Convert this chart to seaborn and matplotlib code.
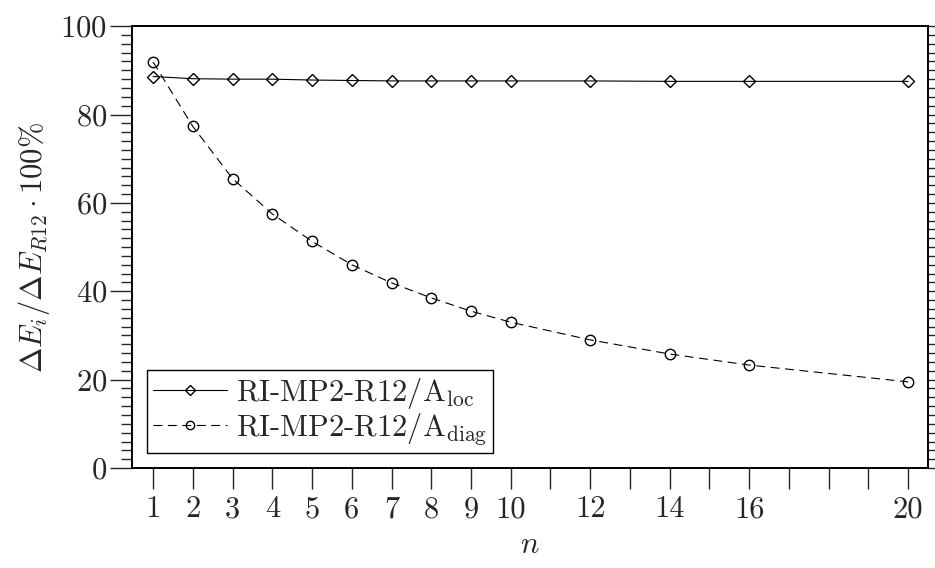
import matplotlib
matplotlib.use("Agg")
import matplotlib.pyplot as plt
import seaborn as sns
import pandas as pd
from matplotlib.ticker import MultipleLocator, FixedLocator

n_vals = [1, 2, 3, 4, 5, 6, 7, 8, 9, 10, 12, 14, 16, 20]
loc_vals = [88.6, 88.1, 88.0, 88.0, 87.8, 87.7, 87.6, 87.6, 87.6, 87.6, 87.6, 87.5, 87.5, 87.5]
diag_vals = [91.9, 77.3, 65.5, 57.5, 51.3, 46.0, 41.9, 38.5, 35.5, 33.0, 29.0, 25.8, 23.3, 19.5]
label_loc = "RI-MP2-R12/A$_{\\mathrm{loc}}$"
label_diag = "RI-MP2-R12/A$_{\\mathrm{diag}}$"
x_ticks = [1, 2, 3, 4, 5, 6, 7, 8, 9, 10, 12, 14, 16, 20]
y_ticks = [0, 20, 40, 60, 80, 100]

sns.set_style("ticks")
plt.rcParams["font.family"] = ["cmr10", "DejaVu Serif"]
plt.rcParams["mathtext.fontset"] = "cm"
plt.rcParams["axes.formatter.use_mathtext"] = True
plt.rcParams["axes.unicode_minus"] = False

FS = 22

df = pd.DataFrame({
    "n": n_vals * 2,
    "val": loc_vals + diag_vals,
    "series": [label_loc] * len(n_vals) + [label_diag] * len(n_vals),
})

fig = plt.figure(figsize=(9.35, 5.68), dpi=100)
ax = fig.add_axes([0.1412, 0.176, 0.8513, 0.778])

sns.lineplot(data=df[df.series == label_loc], x="n", y="val", ax=ax, color="black",
             lw=0.8, marker="D", markersize=6.5, markerfacecolor="none",
             markeredgecolor="black", markeredgewidth=1.0, label=label_loc)
sns.lineplot(data=df[df.series == label_diag], x="n", y="val", ax=ax, color="black",
             lw=0.8, linestyle=(0, (8, 5)), marker="o", markersize=7.5,
             markerfacecolor="none", markeredgecolor="black", markeredgewidth=1.0,
             label=label_diag)

ax.set_xlim(0.47, 20.5)
ax.set_ylim(0, 100)
ax.set_xticks(x_ticks)
ax.set_xticklabels([str(t) for t in x_ticks])
ax.xaxis.set_minor_locator(FixedLocator([11, 13, 15, 17, 18, 19]))
ax.set_yticks(y_ticks)
ax.yaxis.set_minor_locator(MultipleLocator(2))

ax.tick_params(axis="x", which="both", direction="out", length=15, width=1.0,
               labelsize=FS, pad=5, top=False)
ax.tick_params(axis="y", which="major", direction="out", length=16, width=1.0,
               labelsize=FS, pad=2, right=False)
ax.tick_params(axis="y", which="minor", direction="out", length=8, width=1.0, right=False)
for s in ax.spines.values():
    s.set_linewidth(1.2)
    s.set_color("black")

# right-hand tick marks (short, no labels)
axr = ax.twinx()
axr.set_ylim(0, 100)
axr.set_yticks(y_ticks)
axr.yaxis.set_minor_locator(MultipleLocator(2))
axr.tick_params(axis="y", which="both", direction="out", length=8, width=1.0,
                labelright=False, right=True)
axr.grid(False)
for s in axr.spines.values():
    s.set_linewidth(1.2)
    s.set_color("black")

ax.set_xlabel("$n$", fontsize=FS, labelpad=6)
ax.set_ylabel("$\\Delta E_i/\\Delta E_{R12}\\cdot 100\\%$", fontsize=FS, labelpad=6)

leg = ax.legend(loc="lower left", bbox_to_anchor=(0.019, 0.034), fontsize=FS,
                frameon=True, fancybox=False, edgecolor="black", framealpha=1,
                borderpad=0.2, handlelength=2.4, handletextpad=0.3, labelspacing=0.0,
                borderaxespad=0, markerscale=0.8)
leg.get_frame().set_linewidth(1.0)
ax.set_zorder(axr.get_zorder() + 1)
ax.patch.set_visible(False)

fig.savefig("out.png", dpi=100)
